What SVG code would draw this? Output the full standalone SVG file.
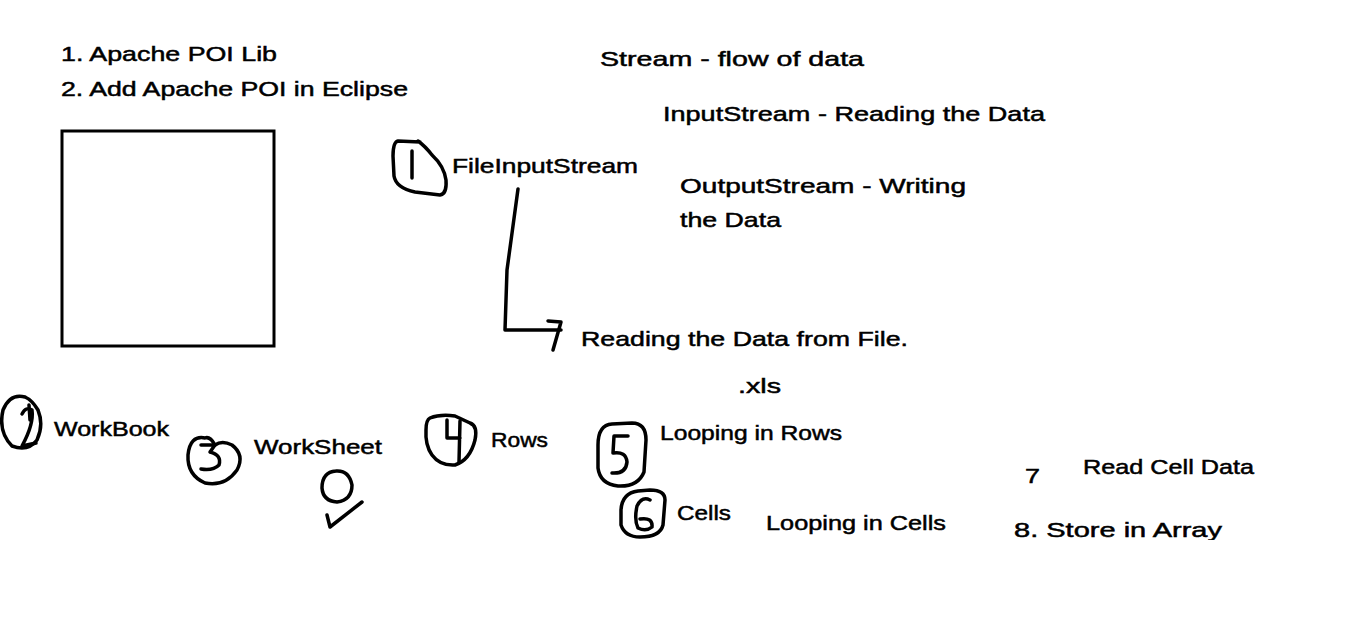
<svg xmlns="http://www.w3.org/2000/svg" width="1357" height="636" viewBox="0 0 1357 636">
<style>
text{font-family:"Liberation Sans","DejaVu Sans",sans-serif;font-size:21px;fill:#000;stroke:#000;stroke-width:0.5}
.ink{fill:none;stroke:#000;stroke-width:3.5;stroke-linecap:round;stroke-linejoin:round}
</style>
<defs><clipPath id="cut"><rect x="0" y="0" width="1357" height="540"/></clipPath></defs>
<rect width="1357" height="636" fill="#fff"/>
<g id="notes">
<text x="61" y="61" textLength="216" lengthAdjust="spacingAndGlyphs">1. Apache POI Lib</text>
<text x="61" y="96" textLength="347" lengthAdjust="spacingAndGlyphs">2. Add Apache POI in Eclipse</text>
<text x="600" y="66" textLength="264" lengthAdjust="spacingAndGlyphs">Stream - flow of data</text>
<text x="663" y="121" textLength="382" lengthAdjust="spacingAndGlyphs">InputStream - Reading the Data</text>
<text x="680" y="193" textLength="286" lengthAdjust="spacingAndGlyphs">OutputStream - Writing</text>
<text x="680" y="227" textLength="101" lengthAdjust="spacingAndGlyphs">the Data</text>
<text x="738" y="393" textLength="43" lengthAdjust="spacingAndGlyphs">.xls</text>
</g>
<g id="box"><rect x="62" y="131" width="212" height="215" fill="none" stroke="#000" stroke-width="3"/></g>
<g id="n1">
<path class="ink" d="M420 142 L398 141 Q393 142 393 156 L394 176 Q396 188 415 192 L440 195 Q447 194 446 180 Q444 166 432 155 Q425 146 418 141"/>
<path class="ink" d="M412 151 L412 178"/>
<text x="452" y="173" textLength="186" lengthAdjust="spacingAndGlyphs">FileInputStream</text>
</g>
<g id="n1b"><text x="581" y="346" textLength="327" lengthAdjust="spacingAndGlyphs">Reading the Data from File.</text></g>
<g id="connectors">
<path class="ink" d="M518 189 L507 270 L505 330 L561 330"/>
<path class="ink" d="M548 321 L561 322 L553 350"/>
</g>
<g id="n2">
<path class="ink" d="M25 397 Q10 393 3 410 Q-2 432 12 446 Q28 452 37 440 Q44 425 38 410 Q32 400 25 397"/>
<path class="ink" d="M22 414 Q26 406 32 410 Q34 424 22 446 L36 443 M29 405 L30 420"/>
<text x="54" y="436" textLength="115" lengthAdjust="spacingAndGlyphs">WorkBook</text>
</g>
<g id="n3">
<path class="ink" d="M205 438 Q190 435 188 455 Q187 475 205 483 Q225 487 237 470 Q245 455 232 445 Q222 440 215 445 Q210 436 205 438"/>
<path class="ink" d="M201 445 L215 445 L210 452 Q222 455 219 465 Q213 471 201 469"/>
<text x="254" y="454" textLength="128" lengthAdjust="spacingAndGlyphs">WorkSheet</text>
</g>
<g id="n3b">
<path class="ink" d="M336 471 Q322 472 322 488 Q323 501 337 502 Q352 500 352 485 Q349 470 336 471"/>
<path class="ink" d="M327 515 L330 527 L362 502"/>
</g>
<g id="n4">
<path class="ink" d="M430 418 Q440 414 455 416 L470 423 Q478 426 475 440 Q470 460 455 465 Q440 466 432 455 Q425 445 426 430 Q426 420 430 418"/>
<path class="ink" d="M447 420 L447 438 L460 438 M460 421 L459 462"/>
<text x="491" y="447" textLength="57" lengthAdjust="spacingAndGlyphs">Rows</text>
</g>
<g id="n5">
<path class="ink" d="M612 424 Q598 425 598 445 L598 468 Q600 484 618 486 Q638 487 644 472 L646 440 Q646 423 632 423 Z"/>
<path class="ink" d="M628 436 L614 436 L613 453 Q626 451 627 462 Q626 474 612 473"/>
<text x="660" y="440" textLength="182" lengthAdjust="spacingAndGlyphs">Looping in Rows</text>
</g>
<g id="n6">
<path class="ink" d="M638 491 Q622 493 621 510 L621 525 Q625 537 640 537 Q660 537 663 525 L665 500 Q665 490 650 490 Z"/>
<path class="ink" d="M650 500 Q642 496 637 506 Q634 520 638 528 Q646 532 652 527 Q653 517 640 519"/>
<text x="677" y="520" textLength="54" lengthAdjust="spacingAndGlyphs">Cells</text>
</g>
<g id="n6b"><text x="766" y="530" textLength="180" lengthAdjust="spacingAndGlyphs">Looping in Cells</text></g>
<g id="n7">
<text x="1025" y="483" textLength="15" lengthAdjust="spacingAndGlyphs">7</text>
<text x="1083" y="474" textLength="171" lengthAdjust="spacingAndGlyphs">Read Cell Data</text>
</g>
<g id="n8" clip-path="url(#cut)"><text x="1014" y="537" textLength="208" lengthAdjust="spacingAndGlyphs">8. Store in Array</text></g>
</svg>
